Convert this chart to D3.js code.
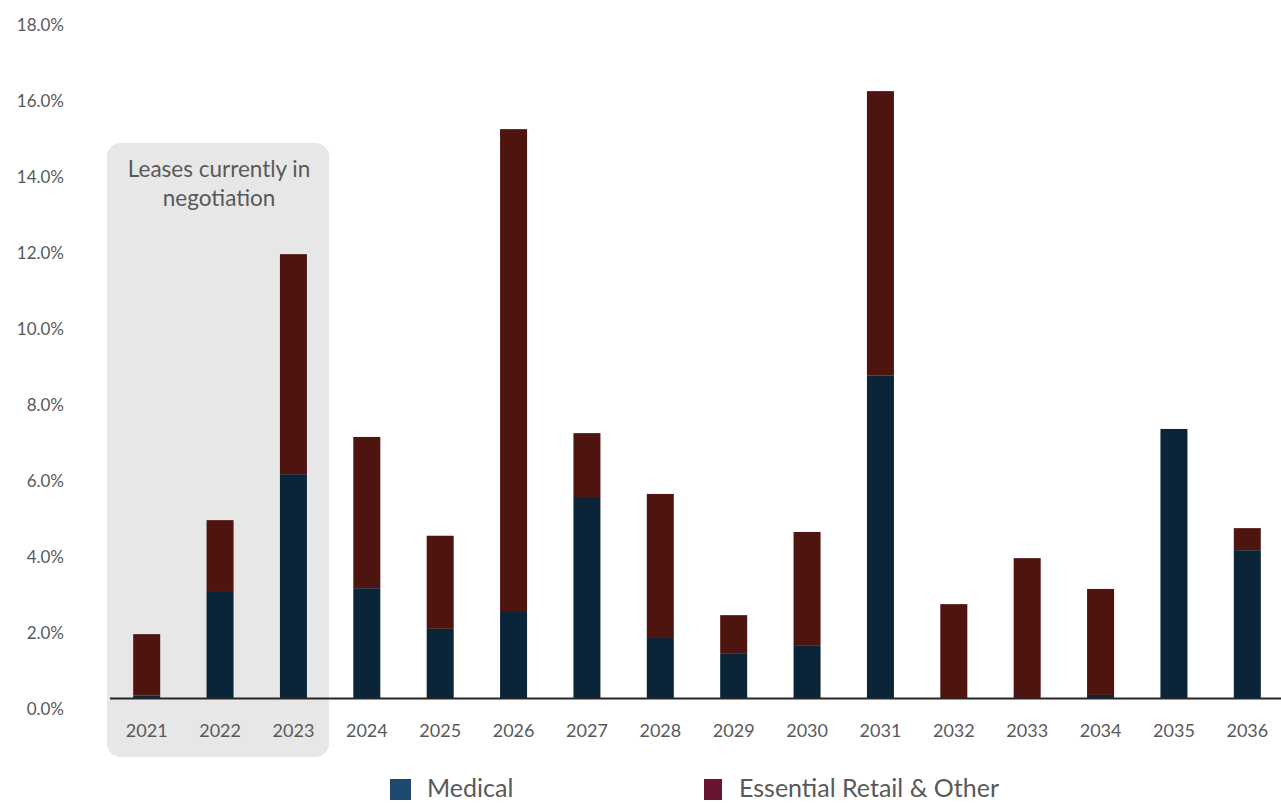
<!DOCTYPE html>
<html>
<head>
<meta charset="utf-8">
<script src="https://cdn.jsdelivr.net/npm/d3@7"></script>
<style>
  body { margin: 0; background: #fff; }
  svg text { font-family: Lato, "Open Sans", sans-serif; fill: #595959; }
</style>
</head>
<body>
<div class="canvas"></div>
<script>
const years = ["2021", "2022", "2023", "2024", "2025", "2026", "2027", "2028",
               "2029", "2030", "2031", "2032", "2033", "2034", "2035", "2036"];
const medical = [0.07, 2.79, 5.89, 2.89, 1.82, 2.29, 5.29, 1.58, 1.18, 1.39, 8.48, 0, 0, 0.08, 7.08, 3.89];
const retail = [1.61, 1.89, 5.79, 3.98, 2.45, 12.68, 1.68, 3.79, 1.0, 2.98, 7.49, 2.47, 3.68, 2.79, 0, 0.58];
const yTicks = [0, 2, 4, 6, 8, 10, 12, 14, 16, 18];
const negotiationYears = ["2021", "2022", "2023"];
const seriesNames = ["Medical", "Essential Retail & Other"];

const width = 1281, height = 803;
const barColours = ["#0a2438", "#4e140f"];
const legendColours = ["#1f4a70", "#6b1430"];

const svg = d3.select(".canvas")
    .append("svg")
    .attr("width", width)
    .attr("height", height);

const x = d3.scaleBand()
    .domain(years)
    .range([110, 1284])
    .paddingInner(0.632)
    .paddingOuter(0.316);

const y = d3.scaleLinear()
    .domain([0, 18])
    .range([698, 14]);

// grey box behind the years under negotiation
const first = x(negotiationYears[0]) - x.step() * x.paddingInner() / 2;
const last = x(negotiationYears[negotiationYears.length - 1]) + x.bandwidth() + x.step() * x.paddingInner() / 2;
svg.append("rect")
    .attr("x", first - 3)
    .attr("y", 143)
    .attr("width", last - first + 2)
    .attr("height", 614)
    .attr("rx", 14)
    .attr("fill", "#e7e7e7");

svg.append("text")
    .attr("text-anchor", "middle")
    .attr("font-size", 22.5)
    .selectAll("tspan")
    .data(["Leases currently in", "negotiation"])
    .join("tspan")
    .attr("x", (first + last) / 2 - 1)
    .attr("y", (d, i) => 177 + i * 29)
    .text(d => d);

// stacked bars
const table = years.map((yr, i) => ({ year: yr, medical: medical[i], retail: retail[i] }));
const stack = d3.stack().keys(["medical", "retail"])(table);

svg.append("g")
    .selectAll("g")
    .data(stack)
    .join("g")
    .attr("fill", (d, i) => barColours[i])
    .selectAll("rect")
    .data(d => d)
    .join("rect")
    .attr("x", d => x(d.data.year))
    .attr("width", x.bandwidth())
    .attr("y", d => y(d[1]))
    .attr("height", d => y(d[0]) - y(d[1]));

// axes
const yAxis = d3.axisLeft(y)
    .tickValues(yTicks)
    .tickSize(0)
    .tickPadding(0)
    .tickFormat(d => d.toFixed(1) + "%");
const yAxisGroup = svg.append("g")
    .attr("transform", "translate(64, 0)")
    .call(yAxis);
yAxisGroup.select(".domain").remove();
yAxisGroup.selectAll("text")
    .attr("font-size", 17)
    .attr("dy", "0.95em")
    .attr("font-family", null);

const xAxis = d3.axisBottom(x).tickSize(0).tickPadding(0);
const xAxisGroup = svg.append("g")
    .attr("transform", `translate(0, ${y(0)})`)
    .call(xAxis);
xAxisGroup.select(".domain").remove();
xAxisGroup.selectAll("text")
    .attr("font-size", 18)
    .attr("y", 33)
    .attr("dy", "0.32em")
    .attr("font-family", null);

svg.append("line")
    .attr("x1", 110)
    .attr("x2", width)
    .attr("y1", y(0) + 0.5)
    .attr("y2", y(0) + 0.5)
    .attr("stroke", "#262626")
    .attr("stroke-width", 2.2);

// legend
const legendX = [390, 704];
const legend = svg.append("g")
    .selectAll("g")
    .data(seriesNames)
    .join("g")
    .attr("transform", (d, i) => `translate(${legendX[i]}, 779)`);
legend.append("rect")
    .attr("width", (d, i) => i ? 18 : 21)
    .attr("height", 21)
    .attr("fill", (d, i) => legendColours[i]);
legend.append("text")
    .attr("x", (d, i) => i ? 35 : 37)
    .attr("y", 18)
    .attr("font-size", 25)
    .text(d => d);
</script>
</body>
</html>
